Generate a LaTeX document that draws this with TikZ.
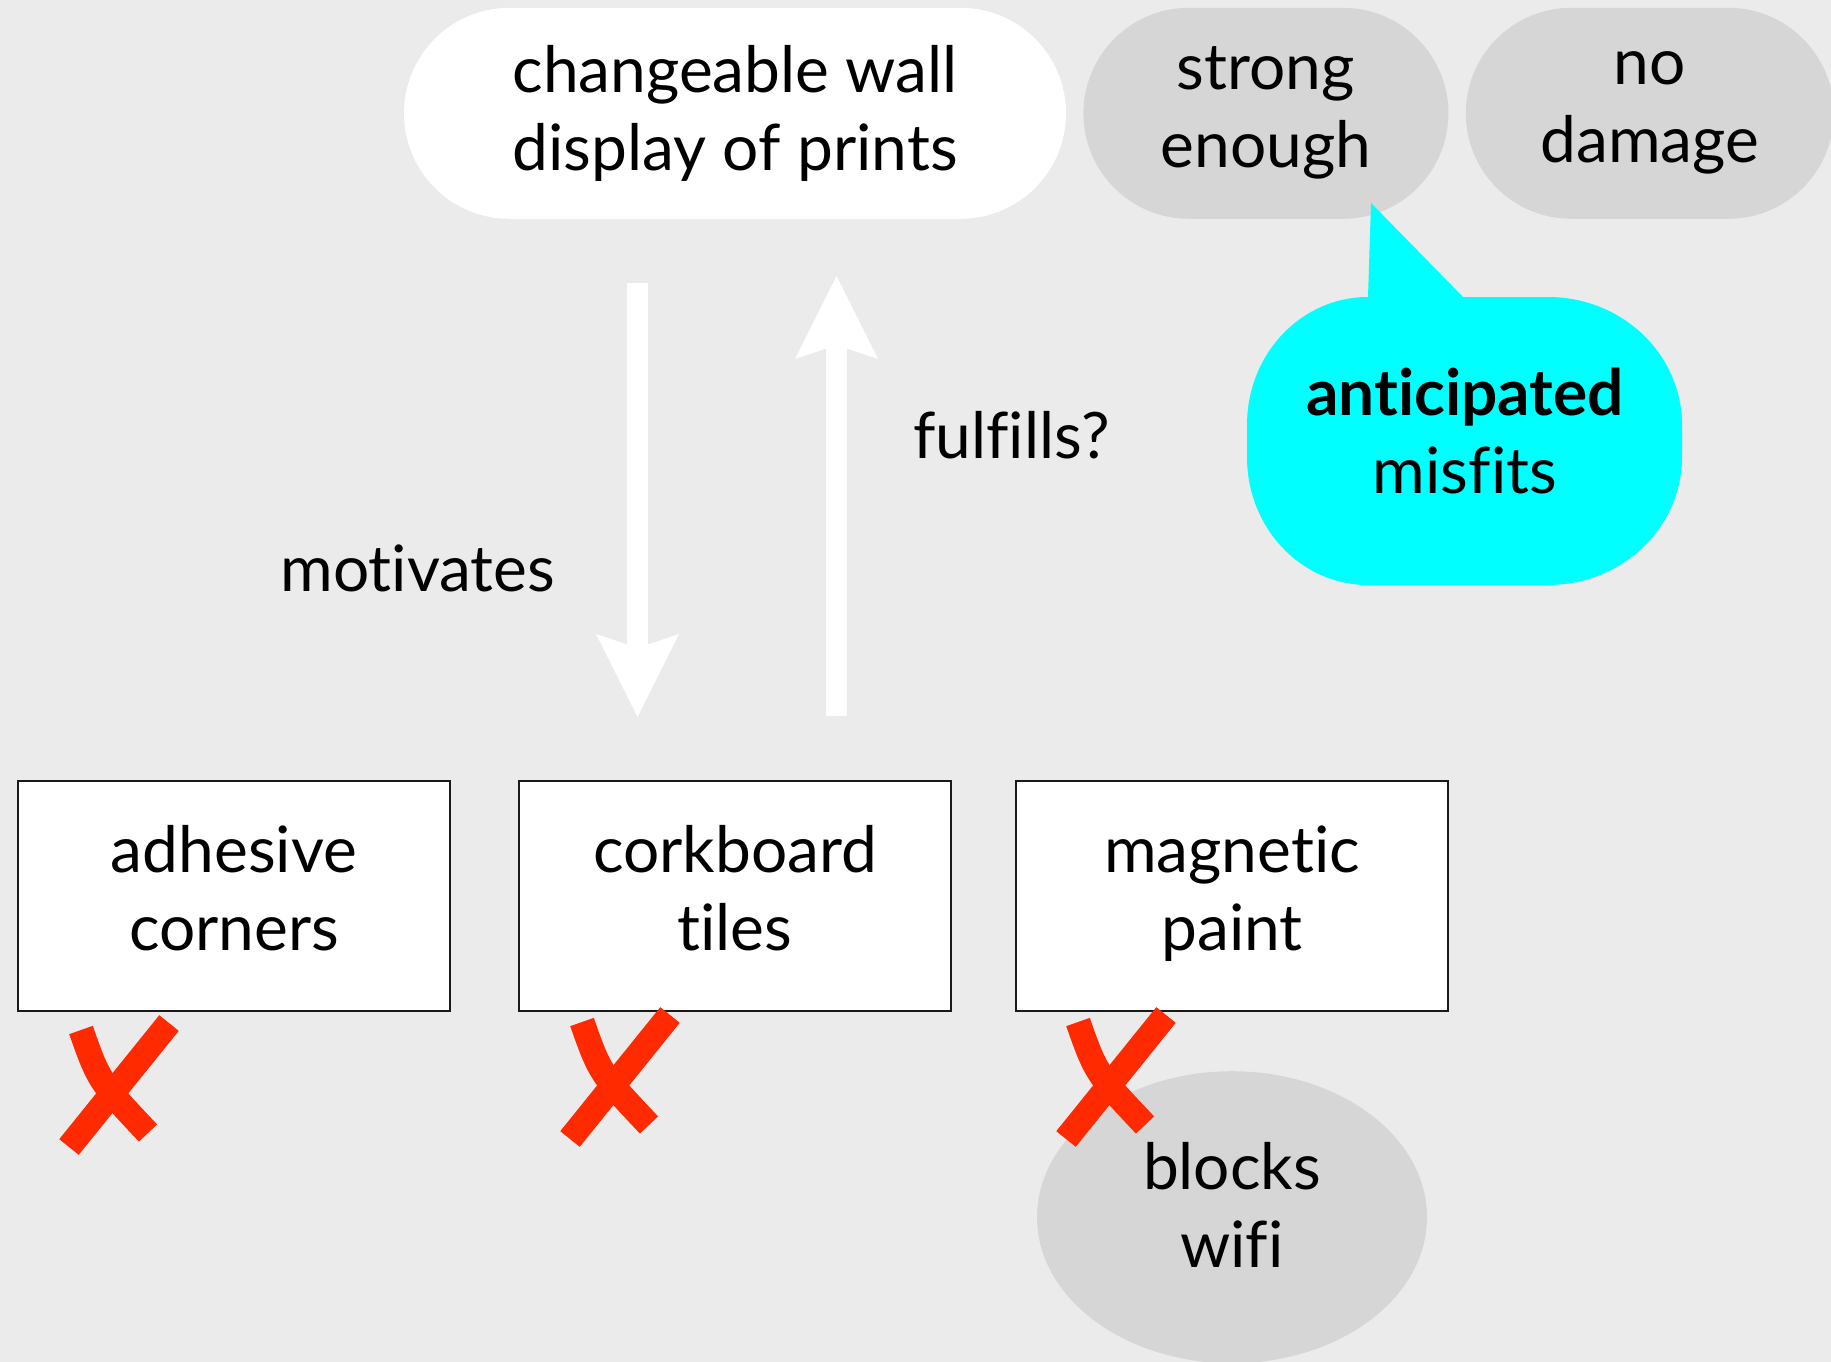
\documentclass[tikz,border=0pt]{standalone}
\usepackage{fontspec}
\setmainfont{Lato}[Ligatures=NoCommon]
\usetikzlibrary{arrows.meta,positioning,shapes.geometric,shapes.misc}
\definecolor{Wall}{HTML}{EBEBEB}
\definecolor{PillGray}{HTML}{D6D6D6}
\definecolor{Misfit}{HTML}{00FFFF}
\definecolor{Cross}{HTML}{FF2A00}
\definecolor{Frame}{HTML}{1A1A1A}
\tikzset{
  xstroke/.style={Cross, line width=25pt},
  redx/.pic={
    \draw[xstroke] (-38,-55) .. controls (-20,-4) .. (29,48);
    \draw[xstroke] (50,-62) -- (-50,62);
  }
}

\begin{document}
\begin{tikzpicture}[
  x=1pt, y=-1pt,
  every node/.append style={font=\fontsize{64}{78}\selectfont, align=center},
  box/.style={draw=Frame, line width=2pt, fill=white, minimum width=432pt, minimum height=230pt, inner sep=0pt, text depth=16pt},
  pill/.style={rounded rectangle, minimum height=211pt, minimum width=365pt, inner sep=0pt},
  blob/.style={ellipse, fill=PillGray, minimum width=390pt, minimum height=292pt, inner sep=0pt},
  lbl/.style={inner sep=0pt, text=black},
  bigarr/.style={white, line width=21pt, -{Stealth[length=83pt, width=83pt, inset=14pt, line width=0pt]}}
]
% wall
\fill[Wall] (0,0) rectangle (1831,1362);
\useasboundingbox (0,0) rectangle (1831,1362);

% design options
\node[box] (cork) at (735,896) {corkboard\\tiles};
\node[box, left=67pt of cork] (adh) {adhesive\\corners};
\node[box, right=63pt of cork] (mag) {magnetic\\paint};

% need and criteria
\node[pill, fill=white, minimum width=662pt, above=561pt of cork] (need) {changeable wall\\display of prints};
\node[pill, fill=PillGray, right=17pt of need] (strong) {strong\\enough};
\node[pill, fill=PillGray, minimum width=368pt, right=17pt of strong] (damage) {no\\damage};

% callout
\fill[Misfit] (1371,203) -- (1463,297) -- (1548,297) .. controls (1622,297) and (1682,354) .. (1682,425)
  -- (1682,457) .. controls (1682,528) and (1622,585) .. (1548,585)
  -- (1368,585) .. controls (1301,585) and (1247,528) .. (1247,457)
  -- (1247,425) .. controls (1247,354) and (1301,297) .. (1368,297) -- cycle;
\node[lbl] (misfit) at (1465,431) {\textbf{anticipated}\\misfits};

% wifi
\node[blob, below=59pt of mag] (wifi) {};
\node[lbl] (wifitext) at ([yshift=12pt]wifi.center) {blocks\\wifi};

% crosses
\pic at ([xshift=102pt,yshift=-73pt]adh.south west) {redx};
\pic at ([xshift=102pt,yshift=-65pt]cork.south west) {redx};
\pic at ([xshift=101pt,yshift=-65pt]mag.south west) {redx};

% arrows
\draw[bigarr, shorten <=64pt, shorten >=63pt] ([xshift=-97.5pt]need.south) -- node[lbl, pos=0.623, left=72pt] (motiv) {motivates} ([xshift=-97.5pt]cork.north);
\draw[bigarr, shorten <=64pt, shorten >=57pt] ([xshift=101.5pt]cork.north) -- node[lbl, pos=0.614, right=66pt] (fulf) {fulfills?} ([xshift=101.5pt]need.south);
\end{tikzpicture}
\end{document}
